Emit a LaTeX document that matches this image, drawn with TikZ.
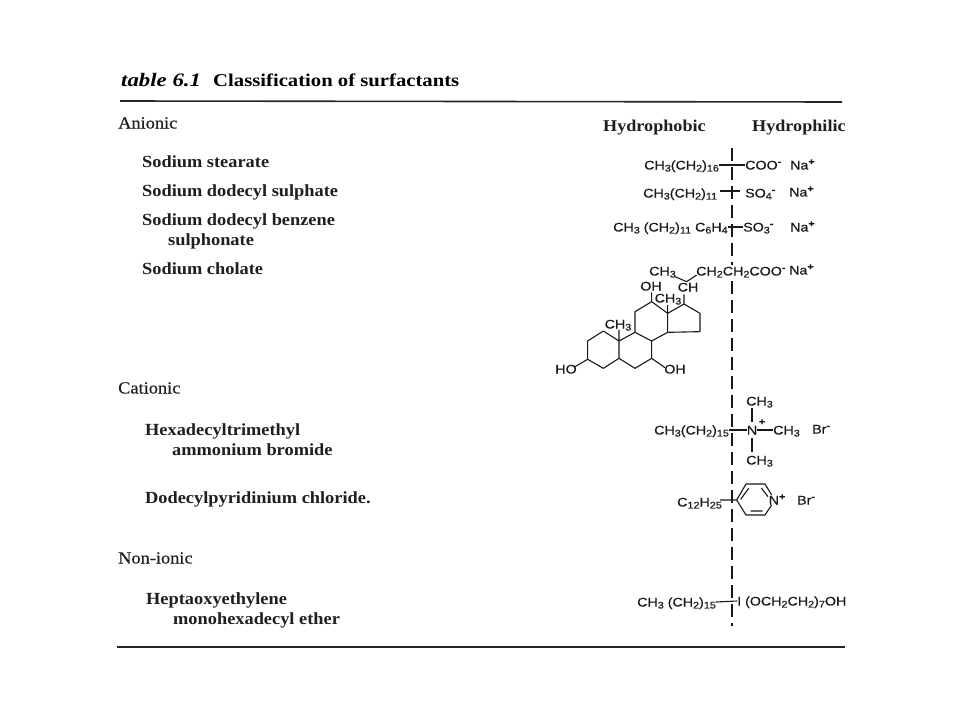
\documentclass[tikz,border=0pt]{standalone}
\usepackage{fontspec}
\setmainfont{Liberation Serif}
\newfontfamily\labfont[FakeStretch=1.08]{Liberation Serif}
\newfontfamily\catfont[FakeStretch=1.08,FakeBold=0.4]{Liberation Serif}
\newfontfamily\hdrfont[FakeStretch=1.1]{Liberation Serif}
\newfontfamily\ttlfont[FakeStretch=1.15]{Liberation Serif}
\newfontfamily\tabfont[FakeStretch=1.2]{Liberation Serif}
\newfontfamily\chemfont[FakeStretch=1.14,FakeBold=0.4]{Liberation Sans}
\newcommand{\chemdn}[1]{\raisebox{-0.3ex}{\fontsize{9.5}{9.5}\selectfont #1}}
\newcommand{\chemup}[1]{\raisebox{0.7ex}{\fontsize{9.5}{9.5}\selectfont\textbf{#1}}}
\tikzset{
  x=1pt,y=-1pt,
  fixh/.style={text height=1.3em,text depth=0.2em},
  lab/.style={anchor=west,inner sep=0pt,fixh,font=\labfont\fontsize{17}{17}\selectfont\bfseries,text=black!88},
  cat/.style={anchor=west,inner sep=0pt,fixh,font=\catfont\fontsize{17}{17}\selectfont,text=black!88},
  hdr/.style={anchor=west,inner sep=0pt,fixh,font=\hdrfont\fontsize{16.5}{16.5}\selectfont\bfseries,text=black!88},
  chem/.style={anchor=west,inner sep=0pt,text height=1.1em,text depth=0.2em,font=\chemfont\fontsize{12.5}{12.5}\selectfont,text=black!90},
  bond/.style={line width=1.1pt,black!90},
  rulea/.style={line width=1.6pt,black!85},
  divider/.style={line width=1.2pt,black!90,dash pattern=on 13pt off 6pt},
}
\begin{document}
\begin{tikzpicture}
\useasboundingbox (0,0) rectangle (960,720);
\fill[white] (0,0) rectangle (960,720);
% title
\node[anchor=west,inner sep=0pt,fixh,font=\tabfont\fontsize{19}{19}\selectfont\bfseries\itshape] (ttl) at (121,81) {table 6.1};
\node[anchor=west,inner sep=0pt,fixh,font=\ttlfont\fontsize{18}{18}\selectfont\bfseries] (ttm) at (213,81) {Classification of surfactants};
\coordinate (ra) at (120,101); \coordinate (rb) at (842,102);
\draw[rulea] (ra) -- (rb);
\coordinate (rc) at (117,647); \coordinate (rd) at (845,647);
\draw[rulea] (rc) -- (rd);
% left labels
\node[cat] (an) at (118,123) {Anionic};
\node[lab] (l1) at (142,162) {Sodium stearate};
\node[lab] (l2) at (142,191) {Sodium dodecyl sulphate};
\node[lab] (l3) at (142,220) {Sodium dodecyl benzene};
\node[lab] (l3b) at (168,240) {sulphonate};
\node[lab] (l4) at (142,269) {Sodium cholate};
\node[cat] (ca) at (118,388) {Cationic};
\node[lab] (l5) at (145,430) {Hexadecyltrimethyl};
\node[lab] (l5b) at (172,450) {ammonium bromide};
\node[lab] (l6) at (145,498) {Dodecylpyridinium chloride.};
\node[cat] (no) at (118,558) {Non-ionic};
\node[lab] (l7) at (146,599) {Heptaoxyethylene};
\node[lab] (l7b) at (173,619) {monohexadecyl ether};
% headers
\node[hdr] (h1) at (603,126) {Hydrophobic};
\node[hdr] (h2) at (752,126) {Hydrophilic};
% divider
\coordinate (dt) at (732,148); \coordinate (db) at (732,626);
\draw[divider] (dt) -- (db);
% stearate
\node[chem] (a1) at (644,165) {CH\chemdn{3}(CH\chemdn{2})\chemdn{16}};
\node[chem] (a2) at (745,165) {COO\chemup{-}};
\node[chem] (a3) at (790,165) {Na\chemup{+}};
\draw[bond] (a1.east) -- (a2.west);
% sulphate
\node[chem] (b1) at (643,193) {CH\chemdn{3}(CH\chemdn{2})\chemdn{11}};
\node[chem] (b2) at (745,193) {SO\chemdn{4}\chemup{-}};
\node[chem] (b3) at (789,192) {Na\chemup{+}};
\coordinate (bb) at (720,191); \coordinate (bc) at (740,191);
\draw[bond] (bb) -- (bc);
% sulphonate
\node[chem] (c1) at (613,227) {CH\chemdn{3} (CH\chemdn{2})\chemdn{11} C\chemdn{6}H\chemdn{4}};
\node[chem] (c2) at (743,227) {SO\chemdn{3}\chemup{-}};
\node[chem] (c3) at (790,227) {Na\chemup{+}};
\draw[bond] (c1.east) -- (c2.west);
% cholate
\node[chem] (d1) at (649,271) {CH\chemdn{3}};
\node[chem,fill=white] (d2) at (696,271) {CH\chemdn{2}CH\chemdn{2}COO\chemup{-}};
\node[chem] (d3) at (789,270) {Na\chemup{+}};
\node[chem,anchor=center] (d4) at (688,287) {CH};
\node[chem,anchor=center] (d5) at (651,286) {OH};
\node[chem,anchor=center] (d6) at (668,298) {CH\chemdn{3}};
\node[chem,anchor=center] (d7) at (618,324) {CH\chemdn{3}};
\node[chem,anchor=center] (d8) at (566,369) {HO};
\node[chem,anchor=center] (d9) at (675,369) {OH};
\begin{scope}[shift={(540,255)},x=0.3333pt,y=-0.3333pt]
\draw[bond,line join=round]
  (143,258) -- (190,228) -- (237,258) -- (237,310) -- (190,340) -- (143,313) -- cycle
  (237,258) -- (285,232) -- (335,258) -- (335,310) -- (285,340) -- (237,310)
  (285,232) -- (285,170) -- (335,140) -- (383,175) -- (383,232) -- (335,258)
  (383,175) -- (432,147) -- (480,175) -- (480,230) -- (383,232)
  (143,313) -- (105,335)
  (335,310) -- (375,338)
  (237,258) -- (237,225)
  (383,175) -- (383,150)
  (335,140) -- (335,112)
  (432,147) -- (432,118)
  (440,80) -- (405,65)
  (440,80) -- (470,60);
\end{scope}
% trimethyl
\node[chem] (e1) at (654,430) {CH\chemdn{3}(CH\chemdn{2})\chemdn{15}};
\node[chem,anchor=center] (e2) at (752,430) {N};
\node[chem,anchor=center] (e2p) at (762,425) {\chemup{+}};
\node[chem] (e3) at (773,430) {CH\chemdn{3}};
\node[chem] (e4) at (812,429) {Br\chemup{-}};
\node[chem] (e5) at (746,401) {CH\chemdn{3}};
\node[chem] (e6) at (746,460) {CH\chemdn{3}};
\draw[bond] (e1.east) -- (e2.west);
\draw[bond] (e2.east) -- (e3.west);
\draw[bond] ([yshift=8pt]e2.center) -- ([yshift=-7pt]e5.center -| e2.center);
\draw[bond] ([yshift=-8pt]e2.center) -- ([yshift=8pt]e6.center -| e2.center);
% pyridinium
\node[chem] (f1) at (677,502) {C\chemdn{12}H\chemdn{25}};
\node[chem,anchor=center] (f2) at (777,500) {N\chemup{+}};
\node[chem] (f3) at (797,500) {Br\chemup{-}};
\begin{scope}[shift={(620,380)},x=0.3333pt,y=-0.3333pt]
\coordinate (p0) at (350,360);
\draw[bond,line join=round]
  (300,360) -- (p0) -- (378,312) -- (435,312) -- (455,345)
  (p0) -- (378,405) -- (435,405) -- (455,375)
  (362,358) -- (386,325)
  (392,393) -- (428,393)
  (424,324) -- (444,350);
\end{scope}
% ether
\node[chem] (g1) at (637,602) {CH\chemdn{3} (CH\chemdn{2})\chemdn{15}};
\node[chem] (g2) at (737,601) {I (OCH\chemdn{2}CH\chemdn{2})\chemdn{7}OH};
\draw[bond] (g1.east) -- (g2.west);
\end{tikzpicture}
\end{document}
